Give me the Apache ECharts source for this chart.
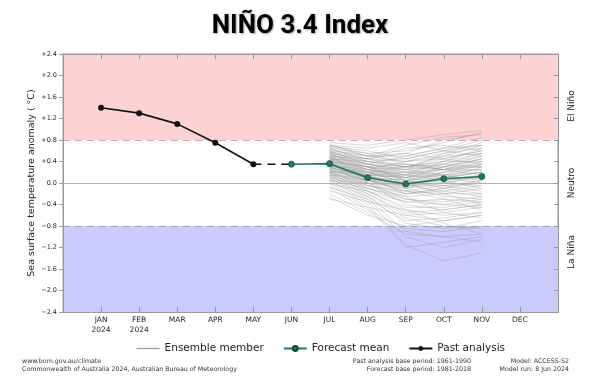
<!DOCTYPE html>
<html>
<head>
<meta charset="utf-8">
<script src="https://cdn.jsdelivr.net/npm/echarts@6/dist/echarts.min.js"></script>
<style>html,body{margin:0;padding:0;background:#fff}#c{width:600px;height:391px}</style>
</head>
<body>
<div id="c"></div>
<script>
// Month labels (x index 0 = JAN 2024)
const monthLabels = ['JAN\n2024','FEB\n2024','MAR','APR','MAY','JUN','JUL','AUG','SEP','OCT','NOV','DEC'];
// Past analysis JAN..MAY
const pastMonths = [0,1,2,3,4];
const pastValues = [1.40,1.30,1.10,0.75,0.35];
// Forecast mean JUN..NOV
const forecastMonths = [5,6,7,8,9,10];
const forecastValues = [0.35,0.36,0.10,-0.02,0.08,0.12];
// Ensemble members JUL..NOV
const ensembleMonths = [6,7,8,9,10];
const ensembleMembers = [
 [0.75,0.70,0.80,0.90,0.98],[0.70,0.55,0.60,0.75,0.95],[0.68,0.60,0.45,0.60,0.80],
 [0.65,0.40,0.30,0.50,0.70],[0.62,0.50,0.55,0.80,0.92],[0.60,0.35,0.20,0.35,0.55],
 [0.58,0.45,0.40,0.45,0.60],[0.55,0.30,0.10,0.20,0.40],[0.55,0.25,0.15,0.40,0.65],
 [0.52,0.40,0.35,0.30,0.30],[0.50,0.20,0.00,0.10,0.20],[0.50,0.30,0.25,0.55,0.75],
 [0.48,0.15,-0.10,0.00,0.10],[0.46,0.35,0.50,0.65,0.85],[0.45,0.10,-0.20,-0.15,-0.05],
 [0.44,0.25,0.05,0.15,0.35],[0.42,0.20,0.20,0.25,0.45],[0.40,0.05,-0.15,-0.05,0.05],
 [0.40,0.15,0.10,0.30,0.50],[0.38,0.30,0.05,-0.10,-0.20],[0.36,0.00,-0.30,-0.35,-0.25],
 [0.35,0.10,0.00,0.20,0.25],[0.34,0.20,0.30,0.40,0.40],[0.32,-0.05,-0.25,-0.20,-0.10],
 [0.30,0.10,-0.05,0.05,0.15],[0.30,0.00,-0.40,-0.50,-0.40],[0.28,0.15,0.15,0.10,0.00],
 [0.26,-0.10,-0.35,-0.30,-0.35],[0.25,0.05,-0.10,0.10,0.30],[0.24,-0.15,-0.50,-0.60,-0.55],
 [0.22,0.10,0.05,-0.05,-0.15],[0.20,-0.05,-0.20,-0.10,0.05],[0.20,-0.20,-0.60,-0.70,-0.60],
 [0.18,0.00,-0.10,-0.25,-0.30],[0.16,-0.10,-0.30,-0.40,-0.45],[0.15,-0.25,-0.75,-0.85,-0.70],
 [0.14,0.05,0.00,0.05,0.10],[0.12,-0.15,-0.45,-0.45,-0.35],[0.10,-0.30,-0.90,-1.00,-0.95],
 [0.10,-0.05,-0.15,-0.30,-0.50],[0.08,-0.20,-0.55,-0.50,-0.40],[0.05,-0.35,-1.00,-1.20,-1.05],
 [0.05,-0.10,-0.25,-0.55,-0.65],[0.02,-0.25,-0.65,-0.80,-0.85],[0.00,-0.40,-1.15,-1.45,-1.30],
 [-0.02,-0.15,-0.35,-0.40,-0.30],[-0.05,-0.45,-1.20,-1.10,-1.00],[-0.08,-0.30,-0.70,-0.65,-0.55],
 [-0.10,-0.50,-0.85,-0.90,-0.80],[-0.15,-0.35,-0.50,-0.75,-0.95],[-0.20,-0.55,-0.95,-1.00,-1.10],
 [-0.26,-0.60,-0.80,-0.70,-0.60],[-0.30,-0.45,-0.60,-0.55,-0.45],[0.60,0.50,0.70,0.85,0.90],
 [0.55,0.45,0.65,0.70,0.60],[0.45,0.40,0.45,0.60,0.70],[0.35,0.25,0.40,0.55,0.65],
 [0.30,0.20,0.25,0.35,0.50],[0.25,0.15,0.20,0.15,0.20],[0.40,0.30,0.35,0.25,0.15],
 [0.50,0.45,0.55,0.45,0.35],[0.70,0.65,0.75,0.60,0.50],[0.15,0.10,0.15,0.30,0.45],
 [0.20,0.15,0.10,0.00,-0.05],[0.65,0.55,0.35,0.25,0.25],[0.05,0.00,-0.05,0.10,0.20],
 [0.35,0.05,-0.05,-0.15,-0.25],[0.45,0.30,0.15,0.05,-0.10],[0.58,0.35,0.25,0.15,0.05],
 [0.28,0.20,0.00,-0.20,-0.40],[0.72,0.50,0.40,0.50,0.55],[0.63,0.45,0.30,0.25,0.35],
 [0.53,0.35,0.25,0.30,0.45],[0.47,0.25,0.10,0.15,0.25],[0.43,0.30,0.20,0.10,0.10],
 [0.38,0.20,0.05,0.10,0.20],[0.33,0.15,-0.05,-0.05,0.00],[0.27,0.10,0.05,0.20,0.35],
 [0.23,0.05,-0.15,-0.20,-0.20],[0.18,0.05,-0.05,0.00,0.15],[0.12,0.00,-0.20,-0.10,0.00],
 [0.68,0.50,0.50,0.65,0.70],[0.57,0.40,0.30,0.40,0.55],[0.49,0.35,0.30,0.35,0.30],
 [0.41,0.25,0.30,0.45,0.60],[0.31,0.25,0.15,0.25,0.30],[0.21,0.20,0.10,0.25,0.40]
];
// Thresholds
const elNinoThreshold = 0.8;
const laNinaThreshold = -0.8;

const pair = (xs, ys) => xs.map((x, i) => [x, ys[i]]);
const font = 'DejaVu Sans';

const series = [];
ensembleMembers.forEach(m => {
  series.push({
    name: 'Ensemble member', type: 'line', symbol: 'none', silent: true,
    data: pair(ensembleMonths, m), z: 2,
    lineStyle: { color: 'rgba(150,150,150,0.35)', width: 1 },
    itemStyle: { color: '#aaaaaa' }
  });
});
series.push({
  name: 'bands', type: 'line', data: [], z: 1,
  markArea: {
    silent: true,
    data: [
      [{ coord: [-1, elNinoThreshold], itemStyle: { color: '#fdd2d2' } }, { coord: [12, 2.4] }],
      [{ coord: [-1, -2.4], itemStyle: { color: '#cacafc' } }, { coord: [12, laNinaThreshold] }]
    ]
  },
  markLine: {
    silent: true, symbol: 'none', label: { show: false },
    data: [
      [{ coord: [-1, elNinoThreshold], lineStyle: { color: '#e0a0a4', type: [7, 5], width: 1.2 } }, { coord: [12, elNinoThreshold] }],
      [{ coord: [-1, laNinaThreshold], lineStyle: { color: '#9a9ab8', type: [7, 5], width: 1.2 } }, { coord: [12, laNinaThreshold] }],
      [{ coord: [-1, 0], lineStyle: { color: '#b0b0b0', type: 'solid', width: 1 } }, { coord: [12, 0] }]
    ]
  }
});
series.push({
  name: 'gap', type: 'line', symbol: 'none', z: 3,
  data: [[pastMonths[pastMonths.length - 1], pastValues[pastValues.length - 1]], [forecastMonths[0], forecastValues[0]]],
  lineStyle: { color: '#111', width: 1.6, type: [8, 6] }
});
series.push({
  name: 'Forecast mean', type: 'line', symbol: 'circle', symbolSize: 6, z: 5,
  data: pair(forecastMonths, forecastValues),
  lineStyle: { color: '#217a5a', width: 1.6 },
  itemStyle: { color: '#217a5a', borderColor: '#0f4a35', borderWidth: 0.8 }
});
series.push({
  name: 'Past analysis', type: 'line', symbol: 'circle', symbolSize: 6, z: 5,
  data: pair(pastMonths, pastValues),
  lineStyle: { color: '#111', width: 1.6 },
  itemStyle: { color: '#111' }
});

const yFmt = v => { const r = Math.round(v * 10) / 10; if (r === 0) return '0.0'; return (r > 0 ? '+' : '\u2212') + Math.abs(r).toFixed(1); };

const chart = echarts.init(document.getElementById('c'), null, { renderer: 'canvas' });
chart.setOption({
  animation: false,
  backgroundColor: '#fff',
  title: {
    text: 'NIÑO 3.4 Index', left: 'center', top: 8,
    textStyle: { fontFamily: 'Roboto', fontWeight: 'bold', fontSize: 26, color: '#000',
      textShadowColor: 'rgba(0,0,0,0.35)', textShadowBlur: 2, textShadowOffsetX: 1, textShadowOffsetY: 1 }
  },
  grid: { left: 63, right: 42, top: 54, bottom: 79, show: true, borderColor: '#999', borderWidth: 1, backgroundColor: 'transparent' },
  legend: {
    data: [
      { name: 'Ensemble member', itemStyle: { opacity: 0 }, lineStyle: { color: '#999', width: 1.2 } },
      { name: 'Forecast mean' },
      { name: 'Past analysis' }
    ],
    left: 131, top: 338, itemWidth: 23, itemHeight: 6, itemGap: 19,
    textStyle: { fontFamily: font, fontSize: 10.5, color: '#222' }
  },
  xAxis: [{
    type: 'value', min: -1, max: 12, interval: 1, z: 10,
    axisLine: { show: true, onZero: false, lineStyle: { color: '#999' } },
    axisTick: { inside: true, length: 5, lineStyle: { color: '#999' } },
    splitLine: { show: false },
    axisLabel: {
      formatter: v => monthLabels[v] || '', fontFamily: font, fontSize: 7.5, color: '#222',
      lineHeight: 10, margin: 3, showMinLabel: false, showMaxLabel: false
    }
  }, {
    type: 'value', min: -1, max: 12, interval: 1, position: 'top', z: 10,
    axisLine: { show: true, onZero: false, lineStyle: { color: '#999' } },
    axisTick: { show: true, inside: true, length: 5, lineStyle: { color: '#999', width: 1 } },
    axisLabel: { show: false }, splitLine: { show: false }
  }],
  yAxis: [{
    type: 'value', min: -2.4, max: 2.4, interval: 0.4, z: 10,
    name: 'Sea surface temperature anomaly ( °C)', nameLocation: 'middle', nameRotate: 90, nameGap: 26,
    nameMoveOverlap: false,
    nameTextStyle: { fontFamily: font, fontSize: 9.5, color: '#222' },
    axisLine: { show: true, onZero: false, lineStyle: { color: '#999' } },
    axisTick: { show: true, inside: false, length: 4, lineStyle: { color: '#999' } },
    splitLine: { show: false },
    axisLabel: { formatter: yFmt, fontFamily: font, fontSize: 6.5, color: '#222', margin: 6 }
  }, {
    type: 'value', min: -2.4, max: 2.4, interval: 0.4, position: 'right', z: 10,
    axisLine: { show: true, onZero: false, lineStyle: { color: '#999' } },
    axisTick: { show: true, inside: true, length: 4, lineStyle: { color: '#999' } },
    axisLabel: { show: false }, splitLine: { show: false }
  }],
  series: series,
  graphic: [
    { type: 'text', x: 572, y: 106, rotation: Math.PI / 2, style: { text: 'El Niño', font: '9px "DejaVu Sans"', fill: '#222', align: 'center', verticalAlign: 'middle' } },
    { type: 'text', x: 572, y: 183, rotation: Math.PI / 2, style: { text: 'Neutro', font: '9px "DejaVu Sans"', fill: '#222', align: 'center', verticalAlign: 'middle' } },
    { type: 'text', x: 572, y: 252, rotation: Math.PI / 2, style: { text: 'La Niña', font: '9px "DejaVu Sans"', fill: '#222', align: 'center', verticalAlign: 'middle' } },
    { type: 'text', x: 22, y: 358, style: { text: 'www.bom.gov.au/climate\nCommonwealth of Australia 2024, Australian Bureau of Meteorology', font: '6.3px "DejaVu Sans"', lineHeight: 7.5, fill: '#333', align: 'left' } },
    { type: 'text', x: 471, y: 358, style: { text: 'Past analysis base period: 1961-1990\nForecast base period: 1981-2018', font: '6.3px "DejaVu Sans"', lineHeight: 7.5, fill: '#333', align: 'right' } },
    { type: 'text', x: 569, y: 358, style: { text: 'Model: ACCESS-S2\nModel run: 8 Jun 2024', font: '6.3px "DejaVu Sans"', lineHeight: 7.5, fill: '#333', align: 'right' } }
  ]
});
</script>
</body>
</html>
